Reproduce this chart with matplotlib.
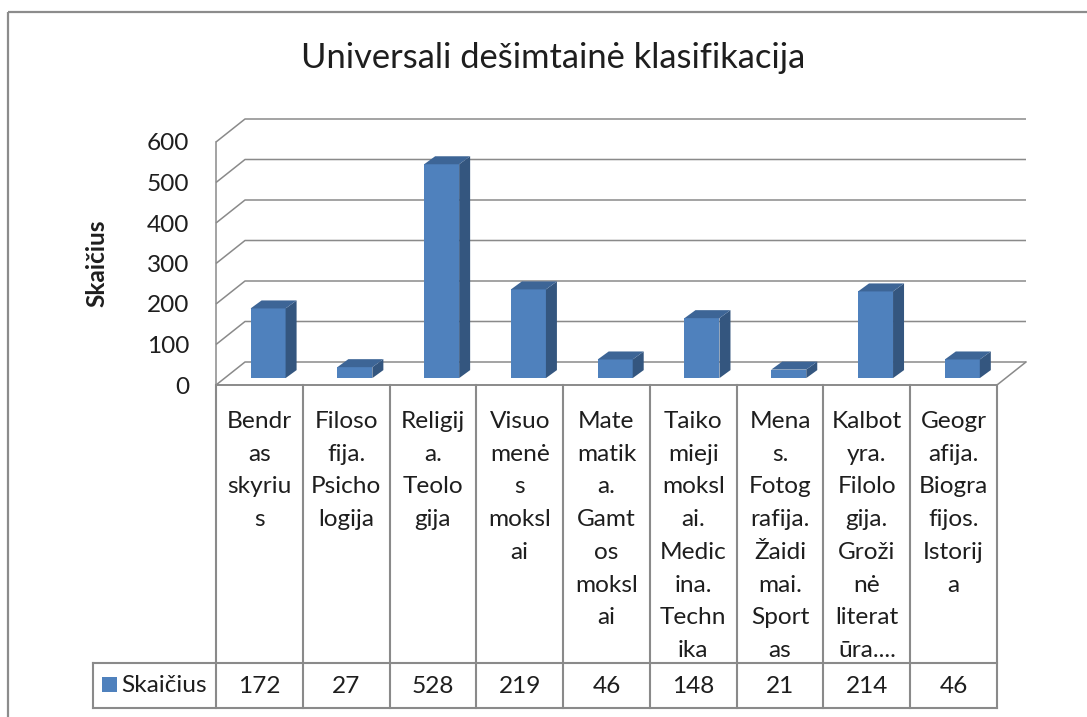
import numpy as np
import matplotlib
matplotlib.use("Agg")
import matplotlib.pyplot as plt
from matplotlib.patches import Polygon, Rectangle

plt.rcParams['font.family'] = ['Lato', 'DejaVu Sans']

# ---------------- data ----------------
title = "Universali dešimtainė klasifikacija"
series_name = "Skaičius"
y_label = "Skaičius"
categories = [
    ["Bendr", "as", "skyriu", "s"],
    ["Filoso", "fija.", "Psicho", "logija"],
    ["Religij", "a.", "Teolo", "gija"],
    ["Visuo", "menė", "s", "moksl", "ai"],
    ["Mate", "matik", "a.", "Gamt", "os", "moksl", "ai"],
    ["Taiko", "mieji", "moksl", "ai.", "Medic", "ina.", "Techn", "ika"],
    ["Mena", "s.", "Fotog", "rafija.", "Žaidi", "mai.", "Sport", "as"],
    ["Kalbot", "yra.", "Filolo", "gija.", "Groži", "nė", "literat", "ūra...."],
    ["Geogr", "afija.", "Biogra", "fijos.", "Istorij", "a"],
]
values = [172, 27, 528, 219, 46, 148, 21, 214, 46]
yticks = [0, 100, 200, 300, 400, 500, 600]

# ---------------- style ----------------
W, H = 1087, 717
FS = 17.6
TXT = '#1e1e1e'
GRID = '#8a8a8a'
FRONT = '#4f81bd'
SIDE = '#34567f'
TOP = '#3d6596'

fig = plt.figure(figsize=(W / 100, H / 100), dpi=100)

# overlay in pixel coordinates for frame, title, table
ov = fig.add_axes([0, 0, 1, 1])
ov.set_xlim(0, W)
ov.set_ylim(H, 0)
ov.axis('off')

X0, X1 = 216, 997          # front plane x-extent (px)
YB, YT = 385, 142          # front plane y for 0 and 600 (px)
n = len(values)
colw = (X1 - X0) / n

# outer border
ov.add_patch(Rectangle((8, 12), W + 20, H + 20, fill=False, ec='#8c8c8c', lw=1.6))

ov.text((302 + 805) / 2, 68, title, ha='center', va='baseline', fontsize=24.8, color=TXT)
ov.text(97, 263, y_label, rotation=90, ha='center', va='center', fontsize=FS,
        fontweight='bold', color=TXT)

# main chart axes (front plane)
ax = fig.add_axes([X0 / W, 1 - YB / H, (X1 - X0) / W, (YB - YT) / H])
ax.set_xlim(0, n)
ax.set_ylim(0, 600)
ax.patch.set_visible(False)
for s in ax.spines.values():
    s.set_visible(False)
ax.set_xticks([])
ax.set_yticks(yticks)
ax.set_yticklabels([str(t) for t in yticks], fontsize=FS, color=TXT)
ax.tick_params(axis='y', length=0, pad=27 * 0.72)

xpx = (X1 - X0) / n
ypx = (YB - YT) / 600.0
DX, DY = 29 / xpx, 23 / ypx          # floor depth in data units
f = 0.3                               # bar front position within depth
bw = 35 / xpx
bdx, bdy = 11 / xpx, 8 / ypx          # bar depth

glw = 1.1
for v in yticks:
    ax.plot([0, DX, n + DX], [v, v + DY, v + DY], color=GRID, lw=glw,
            clip_on=False, zorder=1, solid_capstyle='butt')
ax.plot([0, 0], [0, 600], color=GRID, lw=glw, clip_on=False, zorder=1)
ax.plot([0, n], [0, 0], color=GRID, lw=1.4, clip_on=False, zorder=1)
ax.plot([n, n + DX], [0, DY], color=GRID, lw=glw, clip_on=False, zorder=1)

xs = np.arange(n) + 0.5 + f * DX
base = f * DY
ax.bar(xs, values, width=bw, bottom=base, color=FRONT, edgecolor='none',
       zorder=3, clip_on=False)
for x, v in zip(xs, values):
    x0, x1 = x - bw / 2, x + bw / 2
    y0, y1 = base, base + v
    ax.add_patch(Polygon([(x1, y0), (x1 + bdx, y0 + bdy), (x1 + bdx, y1 + bdy), (x1, y1)],
                         closed=True, fc=SIDE, ec='none', zorder=3, clip_on=False))
    ax.add_patch(Polygon([(x0, y1), (x0 + bdx, y1 + bdy), (x1 + bdx, y1 + bdy), (x1, y1)],
                         closed=True, fc=TOP, ec='none', zorder=3, clip_on=False))

# ---------------- data table ----------------
TB_ROW = 663
TB_BOT = 708
LEG_X = 93
tlw = 1.5
for i in range(n + 1):
    x = X0 + i * colw
    ov.plot([x, x], [YB, TB_BOT], color=GRID, lw=tlw, solid_capstyle='projecting')
ov.plot([LEG_X, X1], [TB_ROW, TB_ROW], color=GRID, lw=tlw)
ov.plot([LEG_X, X1], [TB_BOT, TB_BOT], color=GRID, lw=tlw, solid_capstyle='projecting')
ov.plot([LEG_X, LEG_X], [TB_ROW, TB_BOT], color=GRID, lw=tlw, solid_capstyle='projecting')

for i, lines in enumerate(categories):
    cx = X0 + (i + 0.5) * colw
    for k, line in enumerate(lines):
        ov.text(cx, 428 + k * 32.7, line, ha='center', va='baseline', fontsize=FS, color=TXT)
    ov.text(cx, 693, str(values[i]), ha='center', va='baseline', fontsize=FS, color=TXT)

ov.add_patch(Rectangle((102, 677), 15, 15, fc=FRONT, ec='none'))
ov.text(121, 692, series_name, ha='left', va='baseline', fontsize=FS, color=TXT)

fig.savefig('out.png', dpi=100)
